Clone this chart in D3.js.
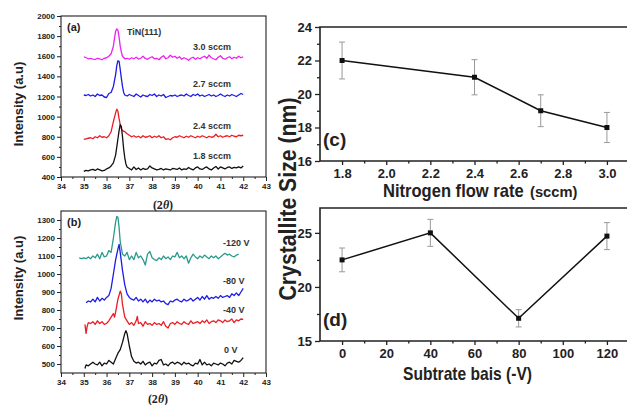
<!DOCTYPE html>
<html>
<head>
<meta charset="utf-8">
<script src="https://cdn.jsdelivr.net/npm/d3@7"></script>
<style>
  body { margin: 0; background: #fff; }
  svg { display: block; font-family: "Liberation Sans", Arial, sans-serif; }
</style>
</head>
<body>
<div id="chart"></div>
<script>
// ---- XRD patterns, panel (a): nitrogen flow rate ----
const flow30 = [[35.0,1595],[35.1,1585],[35.2,1575],[35.3,1580],[35.4,1572],[35.5,1568],[35.6,1580],[35.7,1575],[35.8,1565],[35.9,1580],[36.0,1585],[36.1,1600],[36.2,1625],[36.3,1700],[36.35,1780],[36.4,1850],[36.45,1872],[36.5,1860],[36.55,1790],[36.6,1700],[36.65,1640],[36.7,1600],[36.8,1575],[36.9,1580],[37.0,1570],[37.1,1585],[37.2,1575],[37.3,1590],[37.4,1572],[37.5,1580],[37.6,1600],[37.7,1578],[37.8,1570],[37.9,1585],[38.0,1595],[38.1,1575],[38.2,1580],[38.3,1565],[38.4,1590],[38.5,1605],[38.6,1575],[38.7,1585],[38.8,1610],[38.9,1590],[39.0,1600],[39.1,1580],[39.2,1595],[39.3,1570],[39.4,1585],[39.5,1575],[39.6,1560],[39.7,1580],[39.8,1590],[39.9,1570],[40.0,1585],[40.1,1575],[40.2,1590],[40.3,1600],[40.4,1580],[40.5,1612],[40.6,1585],[40.7,1575],[40.8,1565],[40.9,1590],[41.0,1605],[41.1,1580],[41.2,1570],[41.3,1585],[41.4,1595],[41.5,1575],[41.6,1590],[41.7,1580],[41.8,1600],[41.9,1585],[42.0,1595]];
const flow27 = [[35.0,1215],[35.1,1210],[35.2,1220],[35.3,1205],[35.4,1215],[35.5,1200],[35.6,1225],[35.7,1210],[35.8,1215],[35.9,1195],[36.0,1190],[36.1,1230],[36.2,1240],[36.3,1300],[36.4,1420],[36.45,1510],[36.5,1555],[36.55,1550],[36.6,1470],[36.65,1380],[36.7,1300],[36.75,1240],[36.8,1215],[36.9,1205],[37.0,1220],[37.1,1210],[37.2,1200],[37.3,1225],[37.4,1210],[37.5,1195],[37.6,1215],[37.7,1205],[37.8,1200],[37.9,1220],[38.0,1210],[38.1,1225],[38.2,1200],[38.3,1215],[38.4,1205],[38.5,1220],[38.6,1190],[38.7,1200],[38.8,1210],[38.9,1205],[39.0,1215],[39.1,1200],[39.2,1210],[39.3,1215],[39.4,1205],[39.5,1225],[39.6,1210],[39.7,1200],[39.8,1220],[39.9,1210],[40.0,1225],[40.1,1205],[40.2,1215],[40.3,1200],[40.4,1210],[40.5,1220],[40.6,1205],[40.7,1215],[40.8,1200],[40.9,1210],[41.0,1225],[41.1,1210],[41.2,1200],[41.3,1215],[41.4,1205],[41.5,1220],[41.6,1210],[41.7,1200],[41.8,1215],[41.9,1230],[42.0,1220]];
const flow24 = [[35.0,775],[35.1,780],[35.2,785],[35.3,790],[35.4,780],[35.5,800],[35.6,790],[35.7,810],[35.8,795],[35.9,800],[36.0,790],[36.1,810],[36.2,850],[36.3,950],[36.4,1040],[36.45,1075],[36.5,1050],[36.55,980],[36.6,920],[36.65,880],[36.7,860],[36.8,850],[36.9,830],[37.0,815],[37.1,800],[37.2,810],[37.3,795],[37.4,805],[37.5,790],[37.6,810],[37.7,795],[37.8,800],[37.9,810],[38.0,790],[38.1,805],[38.2,795],[38.3,810],[38.4,790],[38.5,800],[38.6,775],[38.7,780],[38.8,770],[38.9,790],[39.0,800],[39.1,795],[39.2,810],[39.3,800],[39.4,790],[39.5,805],[39.6,795],[39.7,810],[39.8,800],[39.9,790],[40.0,805],[40.1,795],[40.2,810],[40.3,800],[40.4,790],[40.5,805],[40.6,795],[40.7,800],[40.8,825],[40.9,800],[41.0,810],[41.1,795],[41.2,805],[41.3,810],[41.4,800],[41.5,815],[41.6,805],[41.7,800],[41.8,815],[41.9,810],[42.0,815]];
const flow18 = [[35.0,455],[35.1,465],[35.2,460],[35.3,470],[35.4,475],[35.5,465],[35.6,480],[35.7,470],[35.8,460],[35.9,465],[36.0,480],[36.1,490],[36.2,510],[36.3,540],[36.4,620],[36.5,780],[36.55,860],[36.6,920],[36.65,900],[36.7,800],[36.75,680],[36.8,590],[36.85,530],[36.9,500],[37.0,485],[37.1,470],[37.2,500],[37.3,475],[37.4,490],[37.5,470],[37.6,485],[37.7,475],[37.8,480],[37.9,510],[38.0,490],[38.1,480],[38.2,470],[38.3,475],[38.4,485],[38.5,470],[38.6,480],[38.7,475],[38.8,470],[38.9,485],[39.0,480],[39.1,475],[39.2,490],[39.3,470],[39.4,480],[39.5,475],[39.6,495],[39.7,480],[39.8,470],[39.9,490],[40.0,500],[40.1,480],[40.2,475],[40.3,490],[40.4,500],[40.5,480],[40.6,470],[40.7,490],[40.8,505],[40.9,480],[41.0,500],[41.1,490],[41.2,480],[41.3,495],[41.4,500],[41.5,485],[41.6,495],[41.7,490],[41.8,500],[41.9,490],[42.0,510]];

// ---- XRD patterns, panel (b): substrate bias ----
const bias120 = [[34.8,1090],[34.9,1085],[35.0,1090],[35.1,1085],[35.2,1095],[35.3,1085],[35.4,1100],[35.5,1090],[35.6,1110],[35.7,1085],[35.8,1120],[35.9,1095],[36.0,1100],[36.1,1130],[36.2,1120],[36.3,1200],[36.4,1290],[36.45,1320],[36.5,1315],[36.55,1260],[36.6,1180],[36.7,1110],[36.8,1100],[36.9,1120],[37.0,1080],[37.1,1100],[37.2,1080],[37.3,1120],[37.4,1090],[37.5,1100],[37.6,1080],[37.7,1050],[37.8,1110],[37.9,1125],[38.0,1090],[38.1,1080],[38.2,1075],[38.3,1090],[38.4,1080],[38.5,1100],[38.6,1085],[38.7,1095],[38.8,1080],[38.9,1100],[39.0,1095],[39.1,1120],[39.2,1090],[39.3,1100],[39.4,1085],[39.5,1100],[39.6,1060],[39.7,1090],[39.8,1110],[39.9,1095],[40.0,1085],[40.1,1100],[40.2,1090],[40.3,1105],[40.4,1095],[40.5,1085],[40.6,1100],[40.7,1090],[40.8,1100],[40.9,1085],[41.0,1095],[41.1,1105],[41.2,1115],[41.3,1105],[41.4,1110],[41.5,1100],[41.6,1095],[41.7,1105],[41.8,1110]];
const bias80 = [[35.1,840],[35.2,850],[35.3,845],[35.4,860],[35.5,845],[35.6,870],[35.7,850],[35.8,865],[35.9,855],[36.0,870],[36.1,880],[36.2,920],[36.3,1000],[36.4,1080],[36.5,1140],[36.55,1165],[36.6,1120],[36.7,1020],[36.8,940],[36.9,890],[37.0,870],[37.1,860],[37.2,855],[37.3,870],[37.4,850],[37.5,860],[37.6,845],[37.7,860],[37.8,840],[37.9,855],[38.0,845],[38.1,860],[38.2,850],[38.3,855],[38.4,845],[38.5,850],[38.6,835],[38.7,830],[38.8,850],[38.9,845],[39.0,855],[39.1,860],[39.2,850],[39.3,845],[39.4,860],[39.5,850],[39.6,855],[39.7,865],[39.8,850],[39.9,860],[40.0,870],[40.1,855],[40.2,875],[40.3,860],[40.4,880],[40.5,860],[40.6,870],[40.7,865],[40.8,875],[40.9,865],[41.0,880],[41.1,870],[41.2,875],[41.3,880],[41.4,870],[41.5,890],[41.6,880],[41.7,895],[41.8,880],[41.9,900],[42.0,920]];
const bias40 = [[35.05,720],[35.1,670],[35.15,710],[35.2,730],[35.3,725],[35.4,735],[35.5,720],[35.6,740],[35.7,725],[35.8,735],[35.9,720],[36.0,725],[36.1,740],[36.2,760],[36.3,780],[36.35,760],[36.4,790],[36.5,860],[36.6,905],[36.65,890],[36.7,830],[36.8,760],[36.9,740],[37.0,720],[37.1,730],[37.2,715],[37.3,740],[37.35,765],[37.4,725],[37.5,730],[37.6,710],[37.7,735],[37.8,720],[37.9,725],[38.0,715],[38.1,730],[38.2,720],[38.3,725],[38.4,715],[38.5,735],[38.6,710],[38.7,700],[38.8,725],[38.9,730],[39.0,720],[39.1,735],[39.2,725],[39.3,720],[39.4,735],[39.5,725],[39.6,720],[39.7,740],[39.8,725],[39.9,730],[40.0,735],[40.1,725],[40.2,740],[40.3,730],[40.4,745],[40.5,725],[40.6,735],[40.7,740],[40.8,730],[40.9,745],[41.0,740],[41.1,730],[41.2,745],[41.3,735],[41.4,740],[41.5,750],[41.6,730],[41.7,745],[41.8,740],[41.9,750],[42.0,748]];
const bias0 = [[35.05,475],[35.1,495],[35.2,490],[35.3,500],[35.4,510],[35.5,500],[35.6,495],[35.7,510],[35.8,490],[35.9,505],[36.0,500],[36.1,520],[36.2,510],[36.3,500],[36.4,530],[36.5,560],[36.6,580],[36.7,620],[36.8,670],[36.85,685],[36.9,670],[37.0,600],[37.1,540],[37.2,515],[37.3,505],[37.4,510],[37.5,500],[37.6,515],[37.7,495],[37.8,505],[37.9,510],[38.0,490],[38.1,505],[38.2,500],[38.3,520],[38.4,525],[38.5,495],[38.6,500],[38.7,490],[38.8,505],[38.9,510],[39.0,500],[39.1,510],[39.2,505],[39.3,495],[39.4,510],[39.5,500],[39.6,505],[39.7,495],[39.8,490],[39.9,505],[40.0,500],[40.1,525],[40.2,495],[40.3,510],[40.4,495],[40.5,500],[40.6,490],[40.7,505],[40.8,500],[40.9,495],[41.0,505],[41.1,500],[41.2,490],[41.3,505],[41.4,510],[41.5,500],[41.6,520],[41.7,515],[41.8,510],[41.9,520],[42.0,535]];

// ---- crystallite size ----
const flowRates = [1.8, 2.4, 2.7, 3.0];
const sizeByFlow = [22, 21, 19, 18];
const errByFlow = [1.1, 1.05, 0.95, 0.9];

const biasVolts = [0, 40, 80, 120];
const sizeByBias = [22.5, 25, 17.1, 24.7];
const errByBias = [1.1, 1.25, 0.8, 1.25];

// ---- ticks ----
const twoThetaTicks = [34, 35, 36, 37, 38, 39, 40, 41, 42, 43];
const twoThetaMinor = [34.5, 35.5, 36.5, 37.5, 38.5, 39.5, 40.5, 41.5, 42.5];
const intensityTicksA = [400, 600, 800, 1000, 1200, 1400, 1600, 1800, 2000];
const intensityMinorA = [500, 700, 900, 1100, 1300, 1500, 1700, 1900];
const intensityTicksB = [500, 600, 700, 800, 900, 1000, 1100, 1200, 1300];
const intensityMinorB = [550, 650, 750, 850, 950, 1050, 1150, 1250];
const flowTicks = [1.8, 2.0, 2.2, 2.4, 2.6, 2.8, 3.0];
const flowMinor = [1.9, 2.1, 2.3, 2.5, 2.7, 2.9];
const sizeTicksC = [16, 18, 20, 22, 24];
const sizeMinorC = [17, 19, 21, 23];
const biasTicks = [0, 20, 40, 60, 80, 100, 120];
const biasMinor = [10, 30, 50, 70, 90, 110];
const sizeTicksD = [15, 20, 25];
const sizeMinorD = [17.5, 22.5];

const width = 627;
const height = 405;

const svg = d3.select("#chart").append("svg")
  .attr("width", width)
  .attr("height", height)
  .attr("viewBox", [0, 0, width, height]);

svg.append("rect").attr("width", width).attr("height", height).attr("fill", "#fff");

function drawAxis(g, axis, majors, minors, fmt, opts) {
  const major = g.append("g").attr("transform", opts.transform)
    .call(axis(opts.scale).tickValues(majors).tickSize(opts.major).tickPadding(opts.pad).tickFormat(fmt));
  const minor = g.append("g").attr("transform", opts.transform)
    .call(axis(opts.scale).tickValues(minors).tickSize(opts.minor).tickFormat(""));
  [major, minor].forEach(function (a) {
    a.select(".domain").remove();
    a.selectAll("line").attr("stroke", "#222").attr("stroke-width", opts.tickWidth);
  });
  major.selectAll("text")
    .attr("font-family", "Liberation Sans, Arial, sans-serif")
    .attr("font-size", opts.fontSize)
    .attr("font-weight", "bold")
    .attr("fill", "#222");
}

function renderXrd(p) {
  const g = svg.append("g");
  const x = d3.scaleLinear().domain([34, 43]).range([p.left, p.right]);
  const y = d3.scaleLinear().domain(p.yDomain).range([p.bottom, p.top]);

  const line = d3.line()
    .x(function (d) { return x(d[0]); })
    .y(function (d) { return y(d[1]); });

  p.series.forEach(function (s) {
    g.append("path")
      .attr("d", line(s.points))
      .attr("fill", "none")
      .attr("stroke", s.color)
      .attr("stroke-width", 1.3)
      .attr("stroke-linejoin", "round");
    g.append("text")
      .attr("x", s.lx).attr("y", s.ly)
      .attr("font-size", 9).attr("font-weight", "bold").attr("fill", "#333")
      .text(s.label);
  });

  g.append("rect")
    .attr("x", p.left).attr("y", p.top)
    .attr("width", p.right - p.left).attr("height", p.bottom - p.top)
    .attr("fill", "none").attr("stroke", "#222").attr("stroke-width", 1.1);

  drawAxis(g, d3.axisBottom, twoThetaTicks, twoThetaMinor, d3.format("d"), {
    scale: x, transform: `translate(0,${p.bottom})`, major: 4, minor: 2, pad: 2, fontSize: 8, tickWidth: 1
  });
  drawAxis(g, d3.axisLeft, p.yTicks, p.yMinor, d3.format("d"), {
    scale: y, transform: `translate(${p.left},0)`, major: 4, minor: 2, pad: 2, fontSize: 8, tickWidth: 1
  });

  g.append("text")
    .attr("x", p.left + 6).attr("y", p.top + 15)
    .attr("font-size", 11).attr("font-weight", "bold").attr("fill", "#222")
    .text(p.tag);

  g.append("text")
    .attr("transform", `translate(23,${p.ylabelY}) rotate(-90)`)
    .attr("text-anchor", "middle")
    .attr("font-size", 13).attr("font-weight", "bold").attr("fill", "#222")
    .text("Intensity (a.u)");

  const xt = g.append("text")
    .attr("x", p.xlabelX).attr("y", p.xlabelY)
    .attr("text-anchor", "middle")
    .attr("font-family", "Liberation Serif, serif")
    .attr("font-size", 12).attr("font-weight", "bold").attr("fill", "#222");
  xt.append("tspan").text("(2");
  xt.append("tspan").attr("font-style", "italic").text("θ");
  xt.append("tspan").text(")");

  return g;
}

const panelA = renderXrd({
  left: 61, right: 266, top: 16, bottom: 177,
  yDomain: [400, 2000], yTicks: intensityTicksA, yMinor: intensityMinorA,
  tag: "(a)", ylabelY: 104, xlabelX: 163, xlabelY: 209,
  series: [
    { points: flow30, color: "#ee22ee", label: "3.0 sccm", lx: 193, ly: 50 },
    { points: flow27, color: "#1c1ce6", label: "2.7 sccm", lx: 193, ly: 87 },
    { points: flow24, color: "#ec1c24", label: "2.4 sccm", lx: 193, ly: 129 },
    { points: flow18, color: "#111111", label: "1.8 sccm", lx: 193, ly: 159 }
  ]
});
panelA.append("text")
  .attr("x", 127).attr("y", 35)
  .attr("font-size", 9).attr("font-weight", "bold").attr("fill", "#333")
  .text("TiN(111)");

renderXrd({
  left: 61, right: 266, top: 211, bottom: 373,
  yDomain: [450, 1350], yTicks: intensityTicksB, yMinor: intensityMinorB,
  tag: "(b)", ylabelY: 278, xlabelX: 158, xlabelY: 403,
  series: [
    { points: bias120, color: "#2a9a8c", label: "-120 V", lx: 223, ly: 246 },
    { points: bias80, color: "#1c1ce6", label: "-80 V", lx: 223, ly: 284 },
    { points: bias40, color: "#ec1c24", label: "-40 V", lx: 223, ly: 313 },
    { points: bias0, color: "#111111", label: "0 V", lx: 224, ly: 353 }
  ]
});

function renderSize(p) {
  const g = svg.append("g");
  const x = d3.scaleLinear().domain(p.xDomain).range([p.left, p.right]);
  const y = d3.scaleLinear().domain(p.yDomain).range([p.bottom, p.top]);

  const rows = p.xs.map(function (v, i) {
    return { x: v, y: p.ys[i], e: p.errs[i] };
  });

  g.append("path")
    .attr("d", d3.line().x(function (d) { return x(d.x); }).y(function (d) { return y(d.y); })(rows))
    .attr("fill", "none").attr("stroke", "#111").attr("stroke-width", 1.5);

  const bars = g.selectAll(".err").data(rows).join("g").attr("class", "err")
    .attr("stroke", "#999").attr("stroke-width", 1);
  bars.append("line")
    .attr("x1", function (d) { return x(d.x); }).attr("x2", function (d) { return x(d.x); })
    .attr("y1", function (d) { return y(d.y + d.e); }).attr("y2", function (d) { return y(d.y - d.e); });
  bars.append("line")
    .attr("x1", function (d) { return x(d.x) - 3; }).attr("x2", function (d) { return x(d.x) + 3; })
    .attr("y1", function (d) { return y(d.y + d.e); }).attr("y2", function (d) { return y(d.y + d.e); });
  bars.append("line")
    .attr("x1", function (d) { return x(d.x) - 3; }).attr("x2", function (d) { return x(d.x) + 3; })
    .attr("y1", function (d) { return y(d.y - d.e); }).attr("y2", function (d) { return y(d.y - d.e); });

  g.selectAll(".pt").data(rows).join("rect").attr("class", "pt")
    .attr("x", function (d) { return x(d.x) - 2.5; })
    .attr("y", function (d) { return y(d.y) - 2.5; })
    .attr("width", 5).attr("height", 5).attr("fill", "#111");

  g.append("path")
    .attr("d", `M${p.right},${p.top}H${p.left}V${p.bottom}H${p.right}`)
    .attr("fill", "none").attr("stroke", "#222").attr("stroke-width", 1.6);

  drawAxis(g, d3.axisBottom, p.xTicks, p.xMinor, p.xFormat, {
    scale: x, transform: `translate(0,${p.bottom})`, major: 4, minor: 2.5, pad: 4, fontSize: 13, tickWidth: 1.3
  });
  drawAxis(g, d3.axisLeft, p.yTicks, p.yMinor, d3.format("d"), {
    scale: y, transform: `translate(${p.left},0)`, major: 5, minor: 3, pad: 3, fontSize: 13, tickWidth: 1.3
  });

  g.append("text")
    .attr("x", p.left + 3).attr("y", p.tagY)
    .attr("font-size", 19).attr("font-weight", "bold").attr("fill", "#222")
    .text(p.tag);
  return g;
}

const panelC = renderSize({
  left: 320, right: 629, top: 27, bottom: 161,
  xDomain: [1.7, 3.1], yDomain: [16, 24],
  xs: flowRates, ys: sizeByFlow, errs: errByFlow,
  xTicks: flowTicks, xMinor: flowMinor, xFormat: d3.format(".1f"),
  yTicks: sizeTicksC, yMinor: sizeMinorC,
  tag: "(c)", tagY: 146
});
// narrow bold title: squeeze with a horizontal scale instead of textLength
panelC.append("text")
  .attr("transform", "translate(383,197) scale(0.92,1)")
  .attr("font-size", 18).attr("font-weight", "bold").attr("fill", "#222")
  .text("Nitrogen flow rate");
panelC.append("text")
  .attr("transform", "translate(530,197) scale(1.05,1)")
  .attr("font-size", 14).attr("font-weight", "bold").attr("fill", "#222")
  .text("(sccm)");

const panelD = renderSize({
  left: 320, right: 629, top: 208, bottom: 341,
  xDomain: [-10, 130], yDomain: [15, 27.3],
  xs: biasVolts, ys: sizeByBias, errs: errByBias,
  xTicks: biasTicks, xMinor: biasMinor, xFormat: d3.format("d"),
  yTicks: sizeTicksD, yMinor: sizeMinorD,
  tag: "(d)", tagY: 326
});
panelD.append("text")
  .attr("x", 403).attr("y", 380)
  .attr("font-size", 19).attr("font-weight", "bold").attr("fill", "#222")
  .attr("textLength", 129).attr("lengthAdjust", "spacingAndGlyphs")
  .text("Subtrate bais (-V)");

svg.append("text")
  .attr("transform", "translate(296,199) rotate(-90)")
  .attr("text-anchor", "middle")
  .attr("font-size", 23).attr("font-weight", "bold").attr("fill", "#222")
  .attr("textLength", 203).attr("lengthAdjust", "spacingAndGlyphs")
  .text("Crystallite Size (nm)");
</script>
</body>
</html>
